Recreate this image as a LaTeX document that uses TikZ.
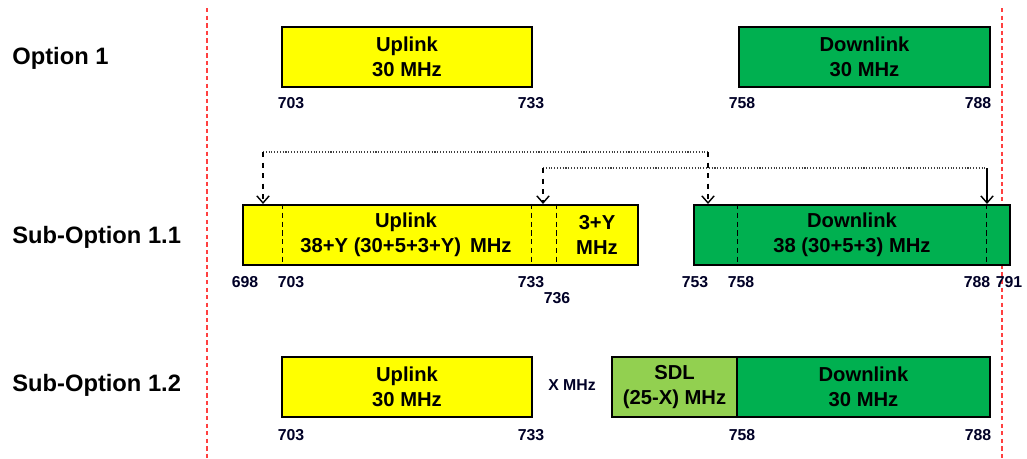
\documentclass[tikz,border=0pt]{standalone}
\usepackage{fontspec}
\setmainfont{Liberation Sans}
\usetikzlibrary{arrows.meta}
\definecolor{bandyellow}{HTML}{FFFF00}
\definecolor{banddark}{HTML}{00B050}
\definecolor{bandlight}{HTML}{92D050}
\tikzset{
  band/.style={draw=black, line width=1.2pt, minimum height=1.2cm, inner sep=0pt},
  bandtext/.style={font=\fontsize{11.5}{14}\bfseries\selectfont, align=center, inner sep=0pt},
  optname/.style={anchor=west, font=\fontsize{13.5}{15}\bfseries\selectfont, inner sep=0pt},
  freq/.style={font=\fontsize{9}{10}\bfseries\selectfont, text=black!85!blue, inner sep=0pt},
  divider/.style={densely dashed, line width=0.5pt},
  limit/.style={red!75, line width=0.6pt, dash pattern=on 2.5pt off 1.8pt},
  hop/.style={black!75, line width=0.6pt, densely dotted},
  drop/.style={line width=0.8pt, dashed, -{Straight Barb[length=4pt,width=7pt]}}
}

\begin{document}
\begin{tikzpicture}[x=0.02cm, y=-0.02cm]
    \useasboundingbox (0,0) rectangle (1027,458);

    % Band limits
    \draw[limit] (207,8) -- (207,458);
    \draw[limit] (1002,8) -- (1002,458);

    % Row labels
    \node[optname] (opt1) at (12,58) {Option 1};
    \node[optname] (opt11) at (12,237) {Sub-Option 1.1};
    \node[optname] (opt12) at (12,385) {Sub-Option 1.2};

    % Option 1
    \node[band, fill=bandyellow, minimum width=5cm] (ul1) at (407,57) {};
    \node[band, fill=banddark, minimum width=5.02cm] (dl1) at (864.5,57) {};
    \node[bandtext] (ul1t) at (ul1) {Uplink\\30 MHz};
    \node[bandtext] (dl1t) at (dl1) {Downlink\\30 MHz};

    % Sub-Option 1.1
    \node[band, fill=bandyellow, minimum width=7.9cm] (ul2) at (440.5,235) {};
    \node[band, fill=banddark, minimum width=6.32cm] (dl2) at (852,235) {};
    \draw[divider] (ul2.north -| 282,0) -- (ul2.south -| 282,0);
    \draw[divider] (ul2.north -| 531,0) -- (ul2.south -| 531,0);
    \draw[divider] (ul2.north -| 556,0) -- (ul2.south -| 556,0);
    \draw[divider] (dl2.north -| 737,0) -- (dl2.south -| 737,0);
    \draw[divider] (dl2.north -| 986,0) -- (dl2.south -| 986,0);
    \node[bandtext] (ul2t) at (406,235) {Uplink\\38+Y (30+5+3+Y) \,MHz};
    \node[bandtext] (ul2x) at (597,235) {3+Y\\MHz};
    \node[bandtext] (dl2t) at (dl2) {Downlink\\38 (30+5+3) MHz};

    % Shifts
    \coordinate (hop1a) at (263,152);
    \coordinate (hop1b) at (708,152);
    \coordinate (hop2a) at (543,168);
    \coordinate (hop2b) at (987,168);
    \draw[hop] (hop1a) -- (hop1b);
    \draw[hop] (hop2a) -- (hop2b);
    \draw[drop] (hop1a) -- (hop1a |- ul2.north);
    \draw[drop] (hop1b) -- (hop1b |- dl2.north);
    \draw[drop] (hop2a) -- (hop2a |- ul2.north);
    \draw[drop, solid] (hop2b) -- (hop2b |- dl2.north);

    % Sub-Option 1.2
    \node[band, fill=bandyellow, minimum width=5cm] (ul3) at (407,387) {};
    \node[band, fill=bandlight, minimum width=2.5cm] (sdl3) at (674.5,387) {};
    \node[band, fill=banddark, minimum width=5.06cm] (dl3) at (863.5,387) {};
    \node[bandtext] (ul3t) at (ul3) {Uplink\\30 MHz};
    \node[bandtext] (sdl3t) at (sdl3) {SDL\\(25-X) MHz};
    \node[bandtext] (dl3t) at (dl3) {Downlink\\30 MHz};
    \node[freq] (gap3) at (572,385) {X MHz};

    % Frequencies
    \foreach \x/\f in {291/703, 531/733, 742/758, 978/788} {
        \node[freq] at (\x,103) {\f};
        \node[freq] at (\x,435) {\f};
    }
    \foreach \x/\f in {245/698, 291/703, 531/733, 695/753, 741/758, 977/788, 1009/791} {
        \node[freq] at (\x,282) {\f};
    }
    \node[freq] (f736) at (557,298) {736};
\end{tikzpicture}
\end{document}
